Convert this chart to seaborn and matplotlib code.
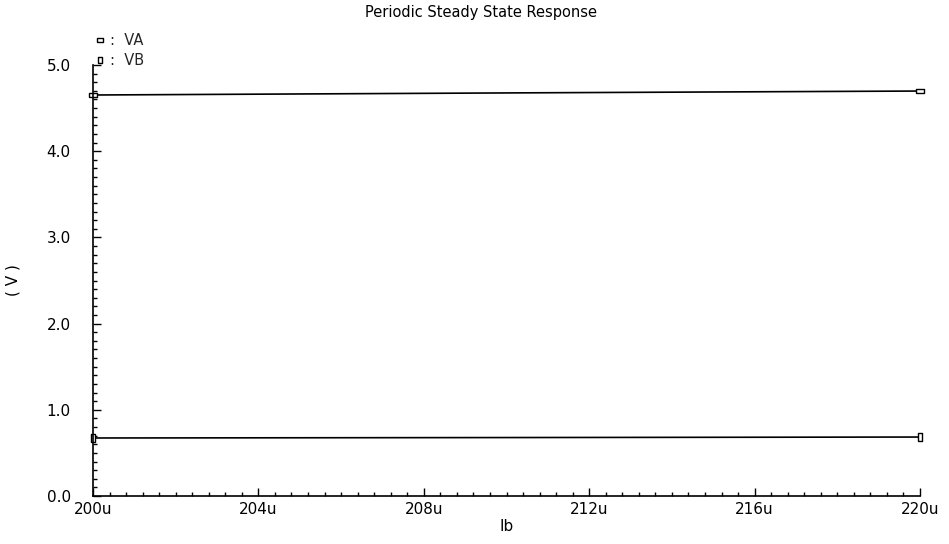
import matplotlib
matplotlib.use("Agg")
import matplotlib.pyplot as plt
import seaborn as sns
import pandas as pd
from matplotlib.lines import Line2D
from matplotlib.ticker import MultipleLocator, FuncFormatter

# Data (Ib in microamps, voltages in V)
ib_u = [200, 210, 220]
va = [4.652, 4.676, 4.698]
vb = [0.673, 0.678, 0.684]
series_names = ["VA", "VB"]
x_ticks = [200, 204, 208, 212, 216, 220]

sns.set_theme(style="ticks")
plt.rcParams["font.family"] = ["DejaVu Sans"]

df = pd.DataFrame({"Ib": ib_u * 2,
                   "V": va + vb,
                   "sig": [series_names[0]] * len(ib_u) + [series_names[1]] * len(ib_u)})

fig = plt.figure(figsize=(9.49, 5.44), dpi=100)
ax = fig.add_axes([93 / 949, 1 - 496 / 544, (920 - 93) / 949, (496 - 65) / 544])

sns.lineplot(data=df, x="Ib", y="V", hue="sig", palette=["black", "black"],
             ax=ax, legend=False, linewidth=1.2)

mk_a = [(-1, -0.5), (1, -0.5), (1, 0.5), (-1, 0.5), (-1, -0.5)]
mk_b = [(-0.5, -1), (0.5, -1), (0.5, 1), (-0.5, 1), (-0.5, -1)]
ax.plot([ib_u[0], ib_u[-1]], [va[0], va[-1]], linestyle="none", marker=mk_a,
        markersize=5.5, markerfacecolor="white", markeredgecolor="black", markeredgewidth=1.0, clip_on=False)
ax.plot([ib_u[0], ib_u[-1]], [vb[0], vb[-1]], linestyle="none", marker=mk_b,
        markersize=5.5, markerfacecolor="white", markeredgecolor="black", markeredgewidth=1.0, clip_on=False)

ax.set_xlim(200, 220)
ax.set_ylim(0, 5.0)
ax.set_xticks(x_ticks)
ax.xaxis.set_major_formatter(FuncFormatter(lambda v, p: f"{int(round(v))}u"))
ax.xaxis.set_minor_locator(MultipleLocator(0.4))
ax.yaxis.set_major_locator(MultipleLocator(1.0))
ax.yaxis.set_minor_locator(MultipleLocator(0.1))
ax.yaxis.set_major_formatter(FuncFormatter(lambda v, p: f"{v:.1f}"))

ax.tick_params(axis="both", which="major", direction="in", length=6, width=1, color="black",
               labelsize=11, labelcolor="black")
ax.tick_params(axis="both", which="minor", direction="in", length=3, width=1, color="black")
ax.tick_params(axis="y", pad=16)
ax.tick_params(axis="x", pad=4)

for s in ["top", "right"]:
    ax.spines[s].set_visible(False)
for s in ["left", "bottom"]:
    ax.spines[s].set_color("black")
    ax.spines[s].set_linewidth(1.2)

ax.set_xlabel("Ib", fontsize=11, color="black", labelpad=2)
ax.set_ylabel("( V )", fontsize=11, color="black")
ax.yaxis.set_label_coords((21 - 93) / 827, 0.5)

fig.text(481 / 949, 1 - 13 / 544, "Periodic Steady State Response", ha="center", va="center",
         fontsize=10.5, color="black")

handles = [Line2D([], [], linestyle="none", marker=mk_a, markersize=5, markerfacecolor="white",
                  markeredgecolor="black", markeredgewidth=1.0),
           Line2D([], [], linestyle="none", marker=mk_b, markersize=5, markerfacecolor="white",
                  markeredgecolor="black", markeredgewidth=1.0)]
leg = fig.legend(handles, [":  " + n for n in series_names], loc="upper left",
                 bbox_to_anchor=(94 / 949, 1 - 33 / 544), frameon=False, fontsize=10.5,
                 handlelength=0.8, handletextpad=0.3, labelspacing=0.35, borderpad=0, borderaxespad=0)

fig.savefig("out.png", dpi=100, facecolor="white")
